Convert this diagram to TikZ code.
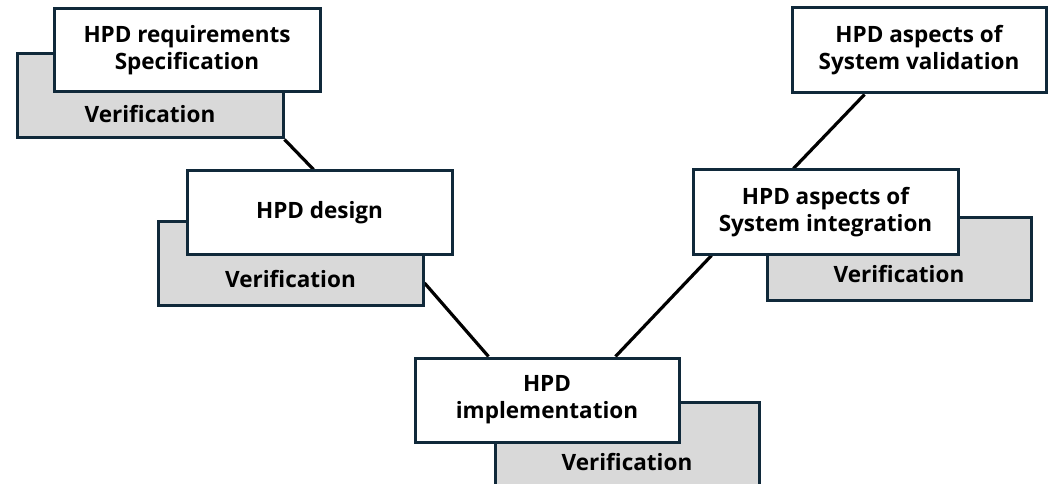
\documentclass[tikz,border=0pt]{standalone}
\usepackage{fontspec}
\setmainfont{Open Sans}[BoldFont={* Bold}]
\usetikzlibrary{calc,backgrounds}
\definecolor{bordercol}{HTML}{10293A}
\definecolor{grayfill}{HTML}{D9D9D9}
\tikzset{
  whitebox/.style={draw=bordercol, line width=3pt, fill=white, inner sep=0pt, align=center,
    font=\bfseries\fontsize{22.5}{27}\selectfont},
  graybox/.style={draw=bordercol, line width=3pt, fill=grayfill, inner sep=0pt},
  vtext/.style={inner sep=0pt, font=\bfseries\fontsize{22.5}{27}\selectfont},
  conn/.style={draw=black, line width=3.2pt}
}
\begin{document}
\begin{tikzpicture}[x=1pt,y=-1pt]
\useasboundingbox (0,0) rectangle (1055,484);
% box 1
\node[graybox, minimum width=266pt, minimum height=84pt] (g1) at (150,96) {};
\node[vtext] (v1) at ($(g1.south)+(0,-25)$) {Verification};
\node[whitebox, minimum width=266pt, minimum height=83pt] (w1) at (187,50.5) {HPD requirements\\Specification};
% box 2
\node[graybox, minimum width=265pt, minimum height=84pt] (g2) at (290.5,263) {};
\node[vtext] (v2) at ($(g2.south)+(0,-27)$) {Verification};
\node[whitebox, minimum width=265pt, minimum height=83pt] (w2) at (319.5,212.5) {HPD design};
% box 3
\node[graybox, minimum width=264pt, minimum height=88pt] (g3) at (627,446) {};
\node[vtext] (v3) at ($(g3.south)+(0,-30)$) {Verification};
\node[whitebox, minimum width=264pt, minimum height=84pt] (w3) at (547,400) {HPD\\implementation};
% box 4
\node[graybox, minimum width=264pt, minimum height=83pt] (g4) at (899,258.5) {};
\node[vtext] (v4) at ($(g4.south)+(0,-27)$) {Verification};
\node[whitebox, minimum width=265pt, minimum height=84pt] (w4) at (825.5,212) {HPD aspects of\\System integration};
% box 5
\node[whitebox, minimum width=254pt, minimum height=85pt] (w5) at (919,50.5) {HPD aspects of\\System validation};
% connectors
\begin{scope}[on background layer]
\draw[conn] (g1.south east) -- ($(w2.north west)+(128,0)$);
\draw[conn] ($(g2.east)+(0,20)$) -- ($(w3.north west)+(75,0)$);
\draw[conn] ($(w3.north west)+(202,0)$) -- ($(w4.south west)+(20,0)$);
\draw[conn] ($(w4.north west)+(102,0)$) -- ($(w5.south west)+(74,0)$);
\end{scope}
\end{tikzpicture}
\end{document}
